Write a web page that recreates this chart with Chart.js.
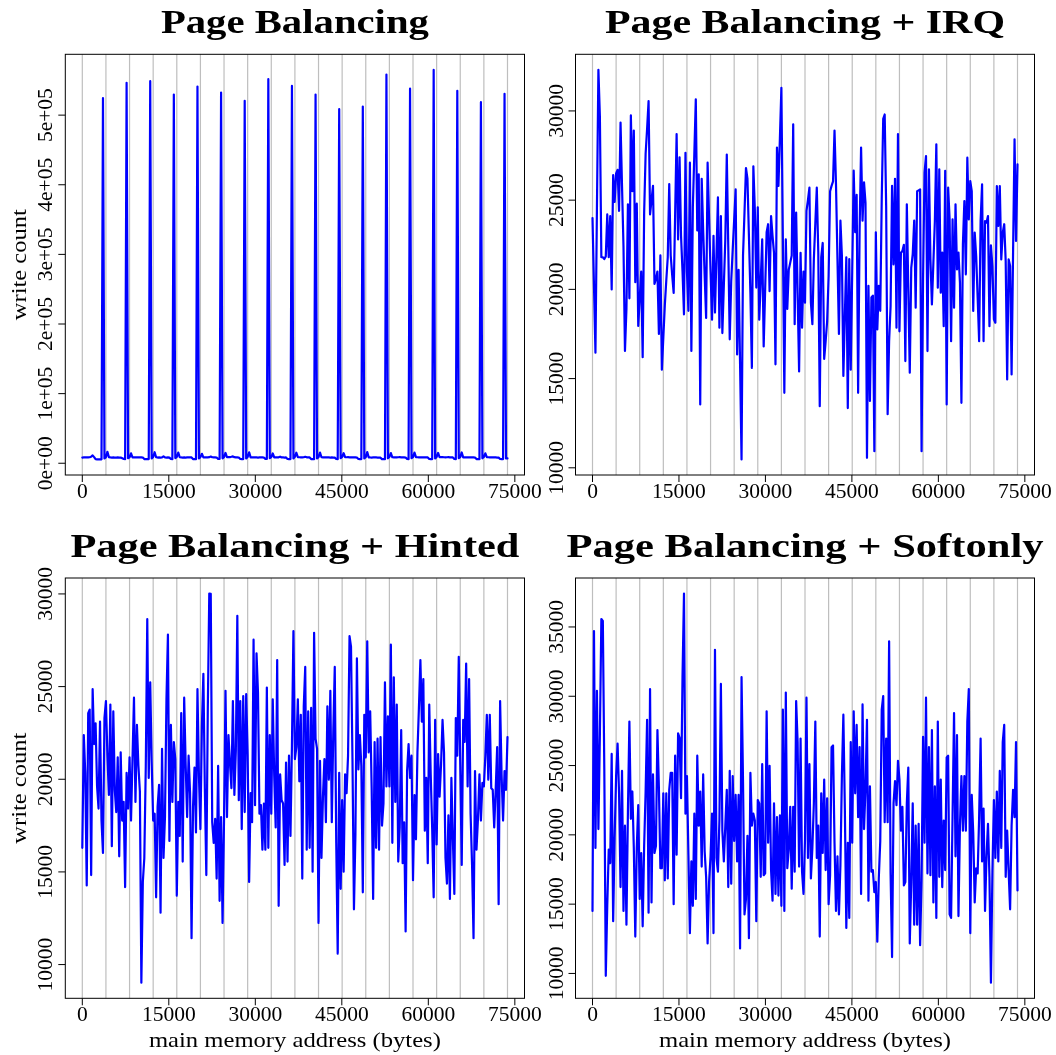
<!DOCTYPE html>
<html>
<head>
<meta charset="utf-8">
<title>Write counts per main memory address</title>
<script src="https://cdn.jsdelivr.net/npm/chart.js@4.4.1/dist/chart.umd.min.js"></script>
<style>
  html, body { margin: 0; padding: 0; background: #ffffff; }
  #stage { position: relative; width: 1056px; height: 1055px; }
  #stage canvas { position: absolute; left: 0; top: 0; }
</style>
</head>
<body>
<div id="stage">
  <canvas id="c1" width="1056" height="1055"></canvas>
  <canvas id="c2" width="1056" height="1055"></canvas>
  <canvas id="c3" width="1056" height="1055"></canvas>
  <canvas id="c4" width="1056" height="1055"></canvas>
</div>
<script>
// ---- data -------------------------------------------------------------
// write counts sampled every 256 bytes of main memory (18 pages of 4096 bytes)
const ADDRESS_STEP = 256;
const PAGE_SIZE = 4096;
const PAGE_COUNT = 18;

const X_TICKS = [0, 15000, 30000, 45000, 60000, 75000];
const Y_TICKS_BALANCING = [0, 100000, 200000, 300000, 400000, 500000];
const Y_LABELS_BALANCING = ['0e+00', '1e+05', '2e+05', '3e+05', '4e+05', '5e+05'];
const Y_TICKS_IRQ = [10000, 15000, 20000, 25000, 30000];
const Y_TICKS_HINTED = [10000, 15000, 20000, 25000, 30000];
const Y_TICKS_SOFTONLY = [10000, 15000, 20000, 25000, 30000, 35000];

const TITLES = ['Page Balancing', 'Page Balancing + IRQ', 'Page Balancing + Hinted', 'Page Balancing + Softonly'];
const X_TITLE = 'main memory address (bytes)';
const Y_TITLE = 'write count';

const WRITES_BALANCING = [
  8200, 8300, 8400, 8500, 8500, 8600, 9400, 11200, 8800, 5800, 5600, 5500, 5500, 5600, 524400, 7000,
  8600, 16500, 8800, 8300, 8200, 8300, 8200, 8100, 8300, 8200, 8000, 7400, 6200, 6000, 546400, 7200,
  8400, 14200, 8500, 8400, 8300, 8400, 8500, 8600, 8400, 8200, 6000, 5800, 5900, 6000, 548800, 6800,
  9000, 15800, 8700, 8200, 8300, 8200, 8300, 9800, 8300, 8200, 8400, 8100, 6100, 5900, 529600, 7400,
  9200, 15300, 8600, 8300, 8200, 8300, 8200, 8400, 8500, 8400, 8300, 6000, 5800, 5900, 541100, 6900,
  8800, 13600, 8500, 8400, 8600, 8500, 8700, 9600, 8600, 8400, 8300, 8200, 6200, 6100, 532500, 7100,
  8700, 14800, 8600, 8700, 8800, 9300, 9900, 8700, 8400, 8300, 8200, 6100, 6000, 6000, 520600, 7000,
  9100, 15600, 8500, 8400, 8300, 8400, 8300, 8200, 8300, 8400, 8300, 8200, 6300, 6100, 551600, 7300,
  8900, 14000, 8400, 8300, 8400, 8500, 9400, 8400, 8300, 8200, 8300, 6200, 5900, 6000, 542000, 6900,
  9200, 15100, 8700, 8600, 8500, 8400, 8600, 9300, 8500, 8400, 8300, 6000, 5800, 5800, 529600, 7000,
  8800, 15400, 8600, 8500, 8400, 8500, 8400, 8300, 8200, 8300, 8100, 8000, 6100, 5900, 508600, 7200,
  9000, 14400, 8800, 8600, 8700, 8500, 8400, 8300, 8500, 8400, 8200, 6200, 6000, 6000, 512400, 7000,
  8700, 15900, 8500, 8300, 8200, 8300, 8400, 8300, 8200, 8100, 8000, 5900, 5800, 5900, 558300, 7100,
  9000, 14600, 8600, 8500, 8400, 8500, 8600, 8700, 8500, 8400, 8300, 8200, 6100, 5900, 538200, 7200,
  8800, 15200, 8700, 8600, 8500, 8400, 8600, 8500, 8400, 8300, 8300, 6100, 6000, 6000, 565000, 7000,
  9100, 14800, 8600, 8700, 8800, 8600, 8500, 8600, 8700, 8500, 8400, 8300, 6200, 6000, 534900, 7300,
  8900, 15500, 8500, 8600, 8500, 8400, 8500, 8600, 8400, 8300, 8200, 6000, 5900, 5800, 518600, 7100,
  9000, 14300, 8700, 8600, 8500, 8400, 8300, 8400, 8300, 8200, 8100, 6100, 5900, 6000, 530600, 7000,
  6900
];

const WRITES_IRQ = [
  24000, 20200, 16450, 24500, 32300, 29700, 21800, 21800, 21700, 21850, 24200, 21800, 24100, 20000, 26400, 24900,
  26500, 26700, 24400, 29350, 25800, 22400, 16550, 18900, 24770, 19500, 29750, 25500, 28900, 20400, 24800, 17950,
  19500, 21000, 16200, 24300, 27600, 29000, 30550, 24200, 25000, 25800, 20300, 20600, 21000, 17500, 21900, 15500,
  17300, 19100, 20500, 21800, 25900, 21900, 20800, 19800, 24200, 28700, 22800, 27400, 23000, 21000, 18600, 27650,
  21000, 18800, 27100, 16550, 24600, 27600, 30650, 23300, 26450, 13550, 26200, 23300, 20800, 18400, 27100, 24000,
  21000, 18300, 23000, 18700, 21900, 25150, 17850, 24100, 17550, 20200, 22800, 27550, 22400, 17200, 20450, 22200,
  23900, 25600, 16350, 21100, 15800, 10470, 21900, 24300, 26800, 26200, 23000, 19800, 15600, 26900, 24500, 20100,
  24600, 18300, 20500, 22800, 16800, 20000, 23200, 23650, 19900, 24100, 23000, 22050, 15800, 27950, 25800, 28500,
  31300, 22800, 14200, 22800, 18900, 21100, 21500, 21900, 29250, 18050, 24300, 19800, 15400, 22050, 17850, 21000,
  19250, 24400, 25000, 25700, 19250, 18050, 21700, 23700, 25700, 22050, 13450, 21800, 22600, 16100, 17100, 18200,
  20750, 25500, 25800, 26050, 28900, 25900, 21700, 17500, 23850, 21900, 15150, 18500, 21800, 13350, 21700, 15500,
  21000, 26650, 23200, 25300, 14200, 23300, 27950, 23850, 26000, 24850, 10560, 20200, 13750, 19550, 19650, 10930,
  23200, 17750, 20200, 18800, 25050, 29550, 29800, 24670, 13000, 17100, 19050, 25800, 21400, 26200, 17850, 28700,
  17650, 22050, 22150, 22500, 15980, 24770, 20000, 15330, 21200, 21970, 23850, 18970, 25500, 25550, 25600, 10930,
  20560, 26540, 27470, 16540, 26730, 21680, 19160, 21500, 23830, 28130, 20090, 26730, 19810, 22060, 17940, 26640,
  13550, 25700, 23920, 17100, 23920, 18970, 24770, 21120, 22060, 20380, 13640, 22520, 24950, 20840, 27380, 23920,
  26070, 25510, 18790, 23180, 21870, 19530, 17100, 23830, 25890, 17100, 23830, 23740, 24110, 17940, 22460, 21310,
  18320, 18130, 25790, 23550, 25790, 21680, 23180, 23650, 21590, 14950, 21680, 21310, 15230, 22060, 28410, 22710,
  27000
];

const WRITES_HINTED = [
  16300, 22380, 20350, 14270, 23570, 23760, 14830, 24860, 21900, 23020, 19610, 18420, 23110, 17770, 16020, 23300,
  24220, 21270, 19150, 24030, 16390, 23660, 19430, 18230, 21180, 15840, 21450, 17770, 18780, 14180, 20350, 18420,
  21180, 17770, 21090, 24400, 18780, 22930, 20720, 19340, 9020, 14460, 15750, 20720, 28640, 20070, 25230, 20900,
  17770, 18140, 13630, 18510, 19700, 12800, 21640, 15750, 17960, 24310, 27810, 16670, 22930, 18780, 22010, 21090,
  13720, 18780, 16940, 23570, 15560, 24400, 20810, 17960, 21270, 19250, 11420, 18510, 20630, 17130, 24860, 20170,
  17310, 22840, 25690, 19520, 14830, 23760, 30020, 30000, 17680, 16570, 17860, 14640, 20720, 13440, 17960, 12250,
  17860, 24770, 17960, 22380, 20900, 19520, 24220, 19150, 21550, 28820, 18870, 24220, 17310, 24490, 18230, 24590,
  21360, 14460, 19250, 17680, 27530, 18600, 26800, 24680, 18140, 18600, 16200, 18690, 16200, 24950, 16300, 22380,
  18140, 24310, 20170, 17400, 26430, 13170, 20260, 18870, 18690, 15380, 20900, 15560, 21270, 16940, 21820, 27990,
  21090, 21730, 24310, 19890, 23480, 14640, 23940, 26060, 16200, 23660, 16300, 23850, 15010, 27900, 22190, 21640,
  12250, 20990, 15750, 19060, 21090, 17680, 23940, 19980, 24770, 17680, 22560, 26060, 16570, 10590, 20350, 14090,
  18870, 15010, 20260, 19250, 21270, 27720, 27160, 21090, 12980, 17030, 26520, 20530, 22380, 20720, 13900, 23480,
  21180, 27440, 21450, 23660, 19520, 13540, 22010, 16300, 22190, 16200, 22280, 17500, 18690, 25230, 19610, 23390,
  19610, 27260, 16570, 25500, 18780, 24030, 15560, 17400, 22650, 15470, 17680, 11790, 20440, 21900, 20070, 21270,
  14550, 19150, 16760, 21450, 23850, 26430, 23110, 25410, 17220, 20070, 15470, 24030, 20260, 17310, 13630, 23200,
  16480, 21360, 19060, 20810, 23200, 21450, 15750, 14370, 18050, 13540, 20070, 16760, 13810, 23300, 21270, 26610,
  20810, 15380, 23200, 22010, 26240, 19610, 25410, 18140, 15380, 11420, 20440, 16200, 17860, 20260, 17770, 19800,
  19610, 21270, 23480, 19980, 23480, 19520, 19430, 17400, 19430, 21730, 13260, 24220, 20260, 17770, 20440, 19430,
  22280
];

const WRITES_SOFTONLY = [
  14510, 34700, 19060, 30390, 20420, 27190, 35570, 35440, 24730, 9830, 14880, 18940, 17960, 25840, 13770, 19800,
  24240, 26580, 23000, 16230, 24610, 14510, 20660, 13520, 21650, 28180, 21160, 23130, 19060, 12660, 19060, 22140,
  15370, 18690, 13400, 19190, 23130, 28300, 14380, 30520, 15120, 24360, 18690, 19190, 27560, 23370, 17590, 17590,
  23000, 16720, 23000, 16850, 23250, 24480, 24480, 15000, 25710, 18570, 27320, 27000, 22640, 31380, 37410, 21530,
  24240, 18570, 12910, 18080, 14880, 21530, 15370, 25710, 20660, 23130, 17710, 24360, 18820, 16970, 12170, 16600,
  18450, 21530, 12910, 33350, 18330, 17340, 21030, 30890, 20300, 18080, 20660, 23250, 16230, 24610, 16480, 24240,
  19560, 22880, 18080, 22880, 11800, 31380, 23870, 14260, 15370, 19930, 12540, 24480, 20660, 21530, 21030, 13770,
  22510, 22270, 16970, 25100, 17090, 17220, 28920, 19430, 24980, 17460, 15250, 22270, 15740, 21280, 15620, 21400,
  14880, 29040, 14510, 30270, 17590, 18940, 22020, 16110, 22020, 17340, 29660, 26700, 17710, 26950, 17340, 15740,
  19680, 29900, 18330, 25100, 16850, 19060, 22270, 28180, 18330, 20660, 12660, 23000, 18690, 23990, 17460, 22640,
  15000, 17090, 26330, 26450, 19430, 14510, 18450, 14260, 17830, 24240, 28670, 21900, 13280, 19430, 14010, 26700,
  19430, 28920, 23000, 27930, 21280, 26330, 15740, 29410, 20420, 23370, 28300, 15250, 23500, 17340, 17460, 15860,
  16600, 12290, 16850, 19560, 29040, 30020, 20910, 26950, 20910, 33970, 17220, 11180, 22270, 23870, 22140, 25340,
  23990, 20300, 22020, 16350, 16600, 22270, 24850, 12170, 16600, 22270, 13520, 20660, 13520, 20790, 12040, 16720,
  27070, 19430, 29900, 17220, 26330, 17090, 27560, 15120, 23500, 14010, 28180, 16970, 23990, 16230, 21030, 17460,
  25590, 25710, 14260, 14010, 21400, 28790, 18450, 27190, 14140, 20660, 24240, 20300, 24240, 20300, 28180, 30520,
  12910, 22880, 20170, 15120, 17590, 17220, 21280, 26950, 18080, 21900, 14510, 18450, 20790, 16970, 9330, 17340,
  22510, 18330, 23130, 18080, 24610, 19060, 26700, 27930, 16970, 20300, 17340, 14630, 20660, 23250, 21280, 26700,
  15990
];

// ---- layout and style ---------------------------------------------------
const CANVAS_W = 1056, CANVAS_H = 1055;
const LINE_COLOR = '#0000ff';
const GRID_COLOR = '#bebebe';
const LABEL_FONT = '21.5px "Liberation Serif", "Times New Roman", serif';
const TITLE_FONT = 'bold 34px "Liberation Serif", "Times New Roman", serif';

const PANELS = [
  { canvas: 'c1', title: TITLES[0], values: WRITES_BALANCING, yTicks: Y_TICKS_BALANCING, yLabels: Y_LABELS_BALANCING,
    frame: { left: 65.3, top: 54.3, right: 524.5, bottom: 475 }, titleWidth: 268, showX: false, showY: true },
  { canvas: 'c2', title: TITLES[1], values: WRITES_IRQ, yTicks: Y_TICKS_IRQ, yLabels: Y_TICKS_IRQ.map(String),
    frame: { left: 575.5, top: 54.3, right: 1034.5, bottom: 475 }, titleWidth: 400, showX: false, showY: false },
  { canvas: 'c3', title: TITLES[2], values: WRITES_HINTED, yTicks: Y_TICKS_HINTED, yLabels: Y_TICKS_HINTED.map(String),
    frame: { left: 65.3, top: 578, right: 524.5, bottom: 998.3 }, titleWidth: 449, showX: true, showY: true },
  { canvas: 'c4', title: TITLES[3], values: WRITES_SOFTONLY, yTicks: Y_TICKS_SOFTONLY, yLabels: Y_TICKS_SOFTONLY.map(String),
    frame: { left: 575.5, top: 578, right: 1034.5, bottom: 998.3 }, titleWidth: 477, showX: true, showY: false }
];

// axis range padded by 4% on each side, like base R graphics
function paddedRange(values) {
  let lo = Infinity, hi = -Infinity;
  for (const v of values) { if (v < lo) lo = v; if (v > hi) hi = v; }
  const pad = 0.04 * (hi - lo);
  return [lo - pad, hi + pad];
}

function drawText(ctx, text, x, y, font, opts = {}) {
  ctx.save();
  ctx.font = font;
  ctx.translate(x, y);
  if (opts.rotate) ctx.rotate(opts.rotate);
  let sx = 1;
  if (opts.width) sx = opts.width / ctx.measureText(text).width;
  ctx.scale(sx, 1);
  ctx.textAlign = 'center';
  ctx.textBaseline = 'alphabetic';
  ctx.fillStyle = '#000000';
  ctx.fillText(text, 0, 0);
  ctx.restore();
}

// frame, page grid, ticks and titles in the style of an R base plot
const rFrame = {
  id: 'rFrame',
  beforeDatasetsDraw(chart, args, opts) {
    const { ctx, chartArea: a, scales: { x } } = chart;
    ctx.save();
    ctx.strokeStyle = GRID_COLOR;
    ctx.lineWidth = 1.2;
    for (let k = 0; k <= PAGE_COUNT; k++) {
      const px = x.getPixelForValue(k * PAGE_SIZE);
      ctx.beginPath();
      ctx.moveTo(px, a.top);
      ctx.lineTo(px, a.bottom);
      ctx.stroke();
    }
    ctx.restore();
  },
  afterDraw(chart, args, opts) {
    const { ctx, chartArea: a, scales: { x, y } } = chart;
    ctx.save();
    ctx.strokeStyle = '#000000';
    ctx.lineWidth = 1;
    ctx.strokeRect(a.left, a.top, a.right - a.left, a.bottom - a.top);
    ctx.beginPath();
    for (const v of X_TICKS) {
      const px = x.getPixelForValue(v);
      ctx.moveTo(px, a.bottom);
      ctx.lineTo(px, a.bottom + 7);
    }
    for (const v of opts.yTicks) {
      const py = y.getPixelForValue(v);
      ctx.moveTo(a.left, py);
      ctx.lineTo(a.left - 7, py);
    }
    ctx.stroke();
    ctx.restore();

    for (const v of X_TICKS) {
      drawText(ctx, String(v), x.getPixelForValue(v), a.bottom + 22.5, LABEL_FONT);
    }
    opts.yTicks.forEach((v, i) => {
      drawText(ctx, opts.yLabels[i], a.left - 13, y.getPixelForValue(v), LABEL_FONT, { rotate: -Math.PI / 2 });
    });

    const cx = (a.left + a.right) / 2;
    const cy = (a.top + a.bottom) / 2;
    drawText(ctx, opts.title, cx, a.top - 21, TITLE_FONT, { width: opts.titleWidth });
    if (opts.showX) {
      drawText(ctx, X_TITLE, cx, a.bottom + 49, LABEL_FONT, { width: 292 });
    }
    if (opts.showY) {
      drawText(ctx, Y_TITLE, a.left - 39.5, cy, LABEL_FONT, { rotate: -Math.PI / 2, width: 111 });
    }
  }
};

const [xMin, xMax] = paddedRange([0, PAGE_COUNT * PAGE_SIZE]);

for (const p of PANELS) {
  const [yMin, yMax] = paddedRange(p.values);
  const points = p.values.map((v, i) => ({ x: i * ADDRESS_STEP, y: v }));
  new Chart(document.getElementById(p.canvas), {
    type: 'line',
    data: {
      datasets: [{
        data: points,
        borderColor: LINE_COLOR,
        borderWidth: 2.2,
        pointRadius: 0,
        tension: 0,
        fill: false,
        borderJoinStyle: 'round',
        borderCapStyle: 'round'
      }]
    },
    options: {
      responsive: false,
      animation: false,
      devicePixelRatio: 1,
      layout: {
        padding: {
          left: p.frame.left,
          top: p.frame.top,
          right: CANVAS_W - p.frame.right,
          bottom: CANVAS_H - p.frame.bottom
        }
      },
      scales: {
        x: { type: 'linear', min: xMin, max: xMax, display: false },
        y: { type: 'linear', min: yMin, max: yMax, display: false }
      },
      plugins: {
        legend: { display: false },
        tooltip: { enabled: false },
        rFrame: {
          title: p.title,
          titleWidth: p.titleWidth,
          yTicks: p.yTicks,
          yLabels: p.yLabels,
          showX: p.showX,
          showY: p.showY
        }
      }
    },
    plugins: [rFrame]
  });
}
</script>
</body>
</html>
